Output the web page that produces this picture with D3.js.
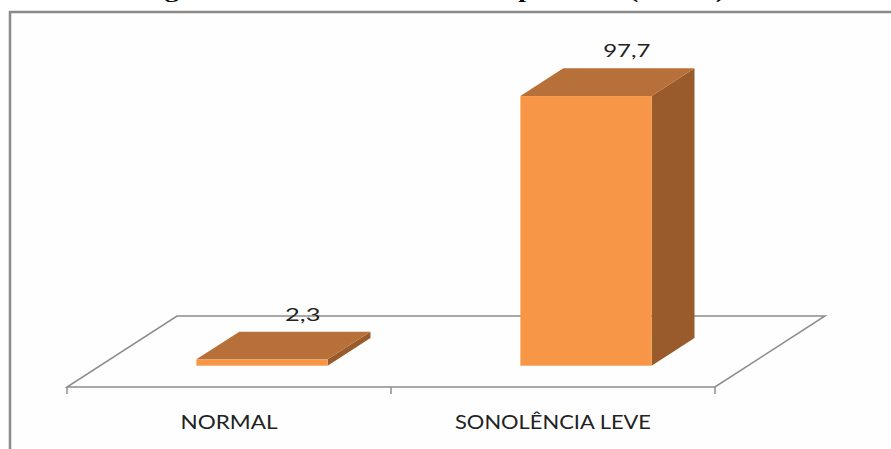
<!DOCTYPE html>
<html>
<head>
<meta charset="utf-8">
<script src="https://cdn.jsdelivr.net/npm/d3@7"></script>
<style>
  html, body { margin: 0; padding: 0; background: #ffffff; }
  svg { display: block; }
</style>
</head>
<body>
<script>
// Escala de sonolência — percentual por categoria
const categories = ["NORMAL", "SONOLÊNCIA LEVE"];
const values = [2.3, 97.7];
const valueLabels = ["2,3", "97,7"];
const titleText = "Figura 1 - Escala de Sonolência por Sexo (N = 43)";

const W = 891, H = 449;
const svg = d3.select("body").append("svg").attr("width", W).attr("height", H);

// outer chart frame (extends past the right and bottom edges)
svg.append("rect")
  .attr("x", 10).attr("y", 12).attr("width", W + 20).attr("height", H + 20)
  .attr("fill", "#fefefe").attr("stroke", "#8a8a8a").attr("stroke-width", 2.5);

// title, mostly cut off at the top edge
svg.append("text")
  .attr("x", 140).attr("y", -2)
  .attr("textLength", 585).attr("lengthAdjust", "spacingAndGlyphs")
  .attr("font-family", "Liberation Serif, Times New Roman, serif")
  .attr("font-weight", "bold").attr("font-size", 18)
  .attr("fill", "#000").text(titleText);

// 3D floor geometry: front edge plus an oblique depth vector
const floorFrontY = 387;
const depth = { dx: 110, dy: -71 };
const x = d3.scaleBand().domain(categories).range([67, 715]).paddingInner(0).paddingOuter(0);
const h = d3.scaleLinear().domain([0, 100]).range([0, 276]);
const barFrac = 0.405;           // bar width as a fraction of the band
const zFront = 0.30, zBack = 0.69; // bar depth position on the floor

const [x0, x1] = x.range();
const floorPath = [
  [x0, floorFrontY],
  [x1, floorFrontY],
  [x1 + depth.dx, floorFrontY + depth.dy],
  [x0 + depth.dx, floorFrontY + depth.dy]
];
svg.append("path")
  .attr("d", d3.line()(floorPath) + "Z")
  .attr("fill", "none").attr("stroke", "#8c8c8c").attr("stroke-width", 1.5);

// category tick marks on the floor's front edge
const tickXs = [x0, ...categories.slice(1).map(c => x(c)), x1];
svg.selectAll(".tick").data(tickXs).enter().append("line")
  .attr("x1", d => d).attr("x2", d => d)
  .attr("y1", floorFrontY).attr("y2", floorFrontY + 7)
  .attr("stroke", "#8c8c8c").attr("stroke-width", 1.5);

const colFront = "#f79646", colTop = "#b8703a", colSide = "#995b2b";

const bars = svg.selectAll(".bar").data(categories.map((c, i) => ({ c, v: values[i], lab: valueLabels[i] })))
  .enter().append("g");

bars.each(function (d) {
  const g = d3.select(this);
  const bw = x.bandwidth() * barFrac;
  const fx = x(d.c) + (x.bandwidth() - bw) / 2 + zFront * depth.dx;
  const fy = floorFrontY + zFront * depth.dy;   // bottom of front face
  const ddx = (zBack - zFront) * depth.dx, ddy = (zBack - zFront) * depth.dy;
  const top = fy - h(d.v);
  // side face
  g.append("path").attr("d", d3.line()([
    [fx + bw, fy], [fx + bw + ddx, fy + ddy], [fx + bw + ddx, top + ddy], [fx + bw, top]
  ]) + "Z").attr("fill", colSide);
  // front face
  g.append("rect").attr("x", fx).attr("y", top).attr("width", bw).attr("height", h(d.v)).attr("fill", colFront);
  // top face
  g.append("path").attr("d", d3.line()([
    [fx, top], [fx + bw, top], [fx + bw + ddx, top + ddy], [fx + ddx, top + ddy]
  ]) + "Z").attr("fill", colTop);
  // value label above the bar
  const lw = d.lab.length * 11.8;
  g.append("text")
    .attr("x", fx + bw / 2 + ddx * 0.95 - lw / 2).attr("y", top + ddy - 11)
    .attr("textLength", lw).attr("lengthAdjust", "spacingAndGlyphs")
    .attr("font-family", "Lato, Open Sans, sans-serif").attr("font-size", 17)
    .attr("fill", "#222").text(d.lab);
});

// category labels
const catWidths = [97, 196];
svg.selectAll(".cat").data(categories).enter().append("text")
  .attr("x", (d, i) => x(d) + x.bandwidth() / 2 - catWidths[i] / 2)
  .attr("y", 429)
  .attr("textLength", (d, i) => catWidths[i]).attr("lengthAdjust", "spacingAndGlyphs")
  .attr("font-family", "Lato, Open Sans, sans-serif").attr("font-size", 19.5)
  .attr("fill", "#222").text(d => d);
</script>
</body>
</html>
